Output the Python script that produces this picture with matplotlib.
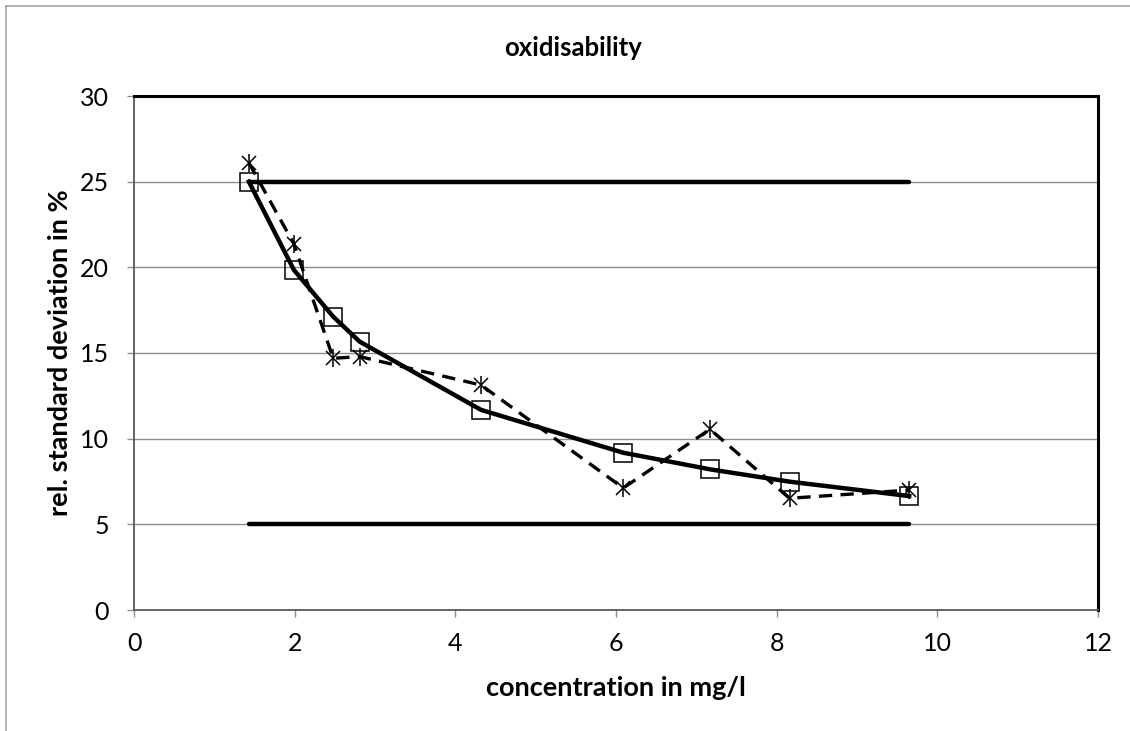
import matplotlib.pyplot as plt
from matplotlib.lines import Line2D

plt.rcParams['font.family'] = ['Lato', 'DejaVu Sans']

# concentration (mg/l) and rel. standard deviation (%)
conc = [1.43, 1.99, 2.48, 2.81, 4.32, 6.09, 7.17, 8.16, 9.65]
rsd_fit = [25.0, 19.85, 17.12, 15.66, 11.68, 9.18, 8.21, 7.49, 6.65]
rsd_meas = [26.1, 21.37, 14.69, 14.79, 13.13, 7.12, 10.55, 6.52, 7.0]
limit_x = [1.43, 9.65]
upper_limit = [25, 25]
lower_limit = [5, 5]

fig = plt.figure(figsize=(11.3, 7.31), dpi=100)
ax = fig.add_axes([134 / 1130, 1 - 610 / 731, 964 / 1130, 514 / 731])

ax.plot(limit_x, upper_limit, color='black', lw=3.2, solid_capstyle='round', zorder=3)
ax.plot(limit_x, lower_limit, color='black', lw=3.2, solid_capstyle='round', zorder=3)

ax.plot(conc, rsd_meas, color='black', lw=2.4, ls=(0, (4, 2.5)), zorder=4)
ax.plot(conc, rsd_meas, ls='none', marker='x', ms=10, mew=1.1, color='black', zorder=5)
ax.plot(conc, rsd_meas, ls='none', marker='|', ms=13, mew=1.1, color='black', zorder=5)

ax.plot(conc, rsd_fit, color='black', lw=3.2, zorder=4)
ax.plot(conc, rsd_fit, ls='none', marker='s', ms=13, mew=1.1, mfc='none', mec='black', zorder=5)

ax.set_xlim(0, 12)
ax.set_ylim(0, 30)
ax.set_xticks(range(0, 13, 2))
ax.set_yticks(range(0, 31, 5))
ax.yaxis.grid(True, color='#8c8c8c', lw=1)
ax.set_axisbelow(True)

for s in ['left', 'bottom']:
    ax.spines[s].set_color('#595959')
    ax.spines[s].set_linewidth(1.3)
for s in ['top', 'right']:
    ax.spines[s].set_color('black')
    ax.spines[s].set_linewidth(2.2)

ax.tick_params(direction='out', length=5, width=1, color='#8c8c8c', labelsize=18)
ax.tick_params(axis='y', pad=13)
ax.tick_params(axis='x', pad=11)

ax.set_xlabel('concentration in mg/l', fontsize=19.5, fontweight='bold')
ax.set_ylabel('rel. standard deviation in %', fontsize=19.5, fontweight='bold')
ax.xaxis.set_label_coords(0.5, (610 - 676) / 514)
ax.yaxis.set_label_coords((72 - 134) / 964, 0.5)
fig.text(573 / 1130, 1 - 48 / 731, 'oxidisability', ha='center', va='center',
         fontsize=18.5, fontweight='bold')

# outer chart border
fig.add_artist(Line2D([6 / 1130, 6 / 1130], [0, 1 - 6 / 731], color='#a6a6a6', lw=1.2))
fig.add_artist(Line2D([6 / 1130, 1], [1 - 6 / 731, 1 - 6 / 731], color='#a6a6a6', lw=1.2))

fig.savefig('out.png', dpi=100)
